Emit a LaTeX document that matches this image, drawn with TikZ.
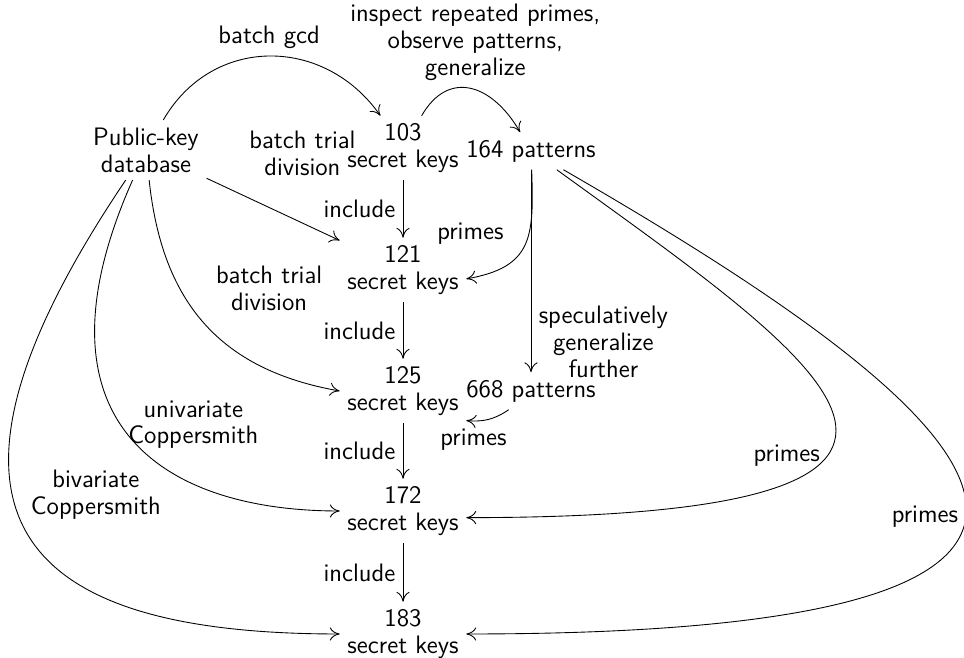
\documentclass[tikz,border=0pt]{standalone}
\usepackage{tikz}
\usetikzlibrary{arrows}
\usetikzlibrary{arrows.meta}
\usetikzlibrary{positioning}
\newcommand{\keyfont}{\sffamily\fontsize{11.5}{12.2}\selectfont}
\tikzset{keys/.style = {align = center, font = \keyfont}}
\tikzset{lbl/.style = {align = center, font = \keyfont}}

\begin{document}
\begin{tikzpicture}[x = 0.016cm, y = 0.016cm, -{To[length = 4.5pt, width = 6pt]}]

       \useasboundingbox (0, 0) rectangle (964, 658);

       \node [keys] (db) at (146, 508) {Public-key\\database};
       \node [keys] (k103) at (403, 510) {103\\secret keys};
       \node [keys] (k121) at (403, 388) {121\\secret keys};
       \node [keys] (k125) at (403, 267) {125\\secret keys};
       \node [keys] (k172) at (403, 147) {172\\secret keys};
       \node [keys] (k183) at (403, 24) {183\\secret keys};
       \node [keys] (p164) at (531, 507) {164 patterns};
       \node [keys] (p668) at (531, 267) {668 patterns};

       \draw (db) to [out = 60, in = 125, looseness = 1.15] node [lbl, above] (gcd) {batch gcd} (k103);
       \draw (k103) to [out = 60, in = 120, looseness = 1.4] node [lbl, above, xshift = 2pt] (insp) {inspect repeated primes,\\observe patterns,\\generalize} (p164);

       \draw (db) -- node [lbl, pos = 0.72, above = 18pt] (btd1) {batch trial\\division} (k121);
       \draw (db) to [out = -84, in = 170, looseness = 1.1] node [lbl, pos = 0.35, right = 13pt] (btd2) {batch trial\\division} (k125.west);
       \draw (db) to [out = -114, in = 180, out looseness = 1.7, in looseness = 1.2] node [lbl, pos = 0.47, right] (uni) {univariate\\Coppersmith} (k172.west);
       \draw (db) to [out = -124, in = 180, out looseness = 2.2, in looseness = 1.5] node [lbl, pos = 0.4, right = 5pt] (bi) {bivariate\\Coppersmith} (k183.west);

       \draw (k103) -- node [lbl, left] (inc1) {include} (k121);
       \draw (k121) -- node [lbl, left] (inc2) {include} (k125);
       \draw (k125) -- node [lbl, left] (inc3) {include} (k172);
       \draw (k172) -- node [lbl, left] (inc4) {include} (k183);

       \draw (p164) to [out = -88, in = 10, looseness = 1.36] node [lbl, pos = 0.4, left = 8pt] (pr1) {primes} (k121.-8);
       \draw (p164) -- node [lbl, pos = 0.85, right] (spec) {speculatively\\generalize\\further} (p668);
       \draw (p668.-140) to [bend left = 20] node [lbl, pos = 0.85, below] (pr2) {primes} (k125.-25);
       \draw (p164) .. controls +(-36:350) and +(0:600) .. (k172.-6) node [lbl, pos = 0.62, left] (pr3) {primes};
       \draw (p164) .. controls +(-30:520) and +(0:780) .. (k183.east) node [lbl, pos = 0.55, left] (pr4) {primes};

    \end{tikzpicture}
\end{document}
